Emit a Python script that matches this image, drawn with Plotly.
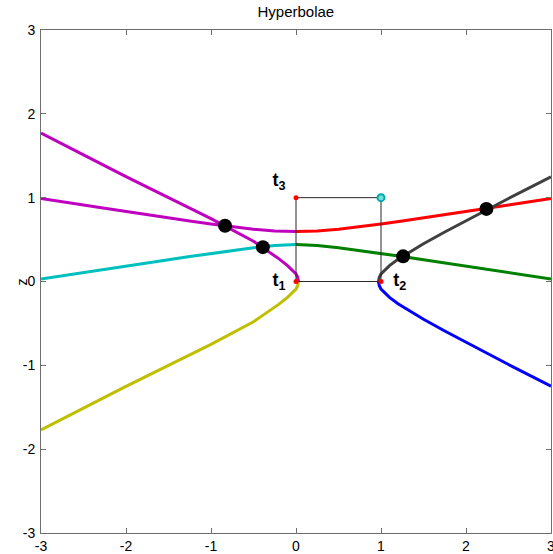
import plotly.graph_objects as go

# ---- data ----
# hyperbola between t1 and t2: left branch (magenta upper / yellow lower)
T12_LEFT_X = [0.03, 0.02, 0.0, -0.05, -0.1, -0.2, -0.3, -0.4, -0.5, -0.7, -1.0, -1.5, -2.0, -2.5, -3.0]
T12_LEFT_UP = [0.0, 0.05, 0.09, 0.145, 0.19, 0.27, 0.345, 0.41, 0.48, 0.59, 0.75, 1.0, 1.25, 1.51, 1.77]
T12_LEFT_DN = [0.0, -0.05, -0.09, -0.145, -0.19, -0.27, -0.345, -0.41, -0.48, -0.59, -0.75, -1.0, -1.25, -1.51, -1.77]
# right branch (gray upper / blue lower)
T12_RIGHT_X = [0.97, 0.98, 1.0, 1.05, 1.1, 1.2, 1.3, 1.4, 1.5, 1.75, 2.0, 2.25, 2.5, 2.75, 3.0]
T12_RIGHT_UP = [0.0, 0.05, 0.09, 0.145, 0.19, 0.265, 0.33, 0.39, 0.45, 0.59, 0.725, 0.86, 0.99, 1.12, 1.25]
T12_RIGHT_DN = [0.0, -0.05, -0.09, -0.145, -0.19, -0.265, -0.33, -0.39, -0.45, -0.59, -0.725, -0.86, -0.99, -1.12, -1.25]

# hyperbola between t1 and t3
T13_XR = [0.0, 0.25, 0.5, 0.75, 1.0, 1.25, 1.5, 1.75, 2.0, 2.25, 2.5, 2.75, 3.0]
T13_XL = [0.0, -0.25, -0.5, -0.75, -1.0, -1.25, -1.5, -1.75, -2.0, -2.25, -2.5, -2.75, -3.0]
T13_UP = [0.595, 0.603, 0.624, 0.653, 0.686, 0.722, 0.758, 0.796, 0.834, 0.873, 0.912, 0.951, 0.99]
T13_DN = [0.44, 0.429, 0.402, 0.369, 0.334, 0.297, 0.259, 0.222, 0.184, 0.145, 0.107, 0.069, 0.03]

# intersections
INTER_X = [-0.835, -0.39, 1.26, 2.24]
INTER_Y = [0.665, 0.41, 0.30, 0.866]

# sensors and source
SENS_X = [0, 1, 0]
SENS_Y = [0, 0, 1]
SENS_LABELS = ["t<sub>1</sub>", "t<sub>2</sub>", "t<sub>3</sub>"]
LABEL_X = [-0.2, 1.22, -0.2]
LABEL_Y = [0.0, 0.0, 1.19]
SRC_X = [1]
SRC_Y = [1]
BOX_X = [0, 1, 1, 0, 0]
BOX_Y = [0, 0, 1, 1, 0]

TICKS = [-3, -2, -1, 0, 1, 2, 3]
TICK_TEXT = ["-3", "-2", "-1", "0", "1", "2", "3"]

fig = go.Figure()

def line(x, y, color):
    fig.add_trace(go.Scatter(x=x, y=y, mode="lines",
                             line=dict(color=color, width=3), hoverinfo="skip"))

line(T13_XL, T13_UP, "rgb(191,0,191)")
line(T13_XR, T13_UP, "rgb(255,0,0)")
line(T13_XL, T13_DN, "rgb(0,191,191)")
line(T13_XR, T13_DN, "rgb(0,128,0)")
line(T12_LEFT_X, T12_LEFT_UP, "rgb(191,0,191)")
line(T12_LEFT_X, T12_LEFT_DN, "rgb(191,191,0)")
line(T12_RIGHT_X, T12_RIGHT_UP, "rgb(64,64,64)")
line(T12_RIGHT_X, T12_RIGHT_DN, "rgb(0,0,255)")

fig.add_trace(go.Scatter(x=BOX_X, y=BOX_Y, mode="lines",
                         line=dict(color="rgb(40,40,40)", width=1)))
fig.add_trace(go.Scatter(x=SENS_X, y=SENS_Y, mode="markers",
                         marker=dict(color="red", size=5)))
fig.add_trace(go.Scatter(x=SRC_X, y=SRC_Y, mode="markers",
                         marker=dict(color="rgb(120,220,220)", size=7,
                                     line=dict(color="rgb(0,170,170)", width=2))))
fig.add_trace(go.Scatter(x=INTER_X, y=INTER_Y, mode="markers",
                         marker=dict(color="black", size=14)))
fig.add_trace(go.Scatter(x=LABEL_X, y=LABEL_Y, mode="text", text=SENS_LABELS,
                         textposition="middle center",
                         textfont=dict(family="Arial, Liberation Sans", size=18,
                                       color="black", weight="bold")))

axis_common = dict(range=[-3, 3], tickvals=TICKS, ticktext=TICK_TEXT,
                   ticks="inside", ticklen=5, automargin=False,
                   ticklabeloverflow="allow",
                   tickcolor="rgb(110,110,110)", showline=True, mirror="ticks",
                   linecolor="rgb(110,110,110)", linewidth=1, showgrid=False,
                   zeroline=False, tickfont=dict(family="Arial, Liberation Sans",
                                                 size=14, color="black"))

fig.update_layout(
    width=553, height=554,
    margin=dict(l=41, r=2, t=30, b=21),
    paper_bgcolor="white", plot_bgcolor="white",
    showlegend=False,
    title=dict(text="Hyperbolae", x=0.535, xanchor="center", y=0.978, yanchor="middle",
               font=dict(family="Arial, Liberation Sans", size=15, color="black")),
    xaxis=dict(**axis_common, ticklabelstandoff=0),
    yaxis=dict(**axis_common, ticklabelstandoff=2),
    annotations=[dict(text="z", xref="paper", yref="paper", x=-0.057, y=0.5,
                      showarrow=False, textangle=-90,
                      font=dict(family="Arial, Liberation Sans", size=14, color="black"))],
)

fig.write_html("out.html", config={"displayModeBar": False},
               post_script="document.body.style.margin='0';document.body.style.overflow='hidden';")
